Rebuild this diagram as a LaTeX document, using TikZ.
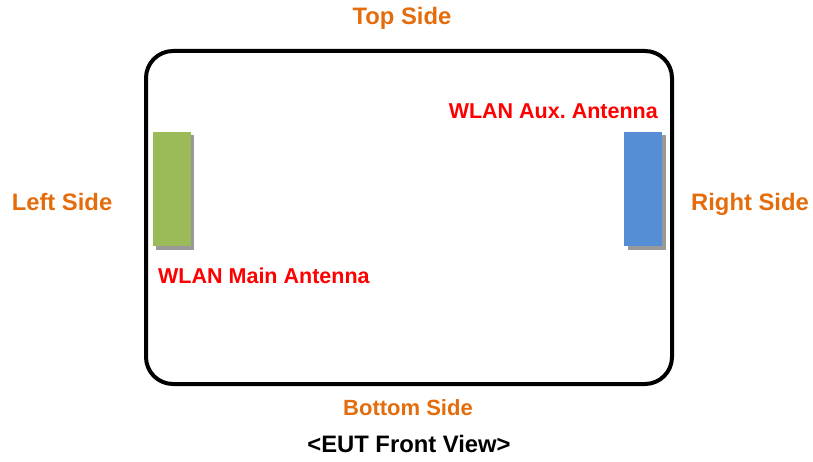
\documentclass[tikz,border=0pt]{standalone}
\usepackage{fontspec}
\setmainfont{Liberation Sans}
\usepackage{tikz}
\usetikzlibrary{shadows}
\frenchspacing
\definecolor{sideorange}{HTML}{E46C0A}
\definecolor{antgreen}{HTML}{9BBB59}
\definecolor{antblue}{HTML}{558ED5}
\tikzstyle{board}=[draw=black,line width=4pt,rounded corners=27pt,minimum width=526pt,minimum height=333pt,inner sep=0pt]
\tikzstyle{antenna}=[minimum width=38pt,minimum height=114pt,inner sep=0pt,drop shadow={shadow xshift=3.5pt,shadow yshift=-3.5pt,fill=black!40,opacity=1}]
\tikzstyle{side label}=[anchor=base,inner sep=0pt,text=sideorange,font=\fontsize{23.8}{28}\selectfont\bfseries]
\tikzstyle{ant label}=[anchor=base,inner sep=0pt,text=red,font=\fontsize{21.5}{25}\selectfont\bfseries]

\begin{document}
\begin{tikzpicture}[x=1pt,y=-1pt]
    \useasboundingbox (0,0) rectangle (813,462);
    % The device outline
    \node[board] (eut) at (409,217.5) {};

    % Antennas
    \node[antenna,fill=antgreen] (main) at (171.5,189) {};
    \node[antenna,fill=antblue] (aux) at (643,189) {};

    % Side labels
    \foreach \pos/\name/\txt in {{(402,24.5)/top/Top Side}, {(62,211)/left/Left Side},
        {(750,211)/right/Right Side}}
        \node[side label] (\name) at \pos {\txt};
    \node[side label,font=\fontsize{22}{26}\selectfont\bfseries] (bottom) at (408,415.5) {Bottom Side};

    % Antenna labels
    \node[ant label,anchor=base east] (auxlabel) at (658,119) {WLAN Aux. Antenna};
    \node[ant label,anchor=base west] (mainlabel) at (158,283) {WLAN Main Antenna};

    \node[side label,text=black] (view) at (409,452) {<EUT Front View>};
\end{tikzpicture}
\end{document}
